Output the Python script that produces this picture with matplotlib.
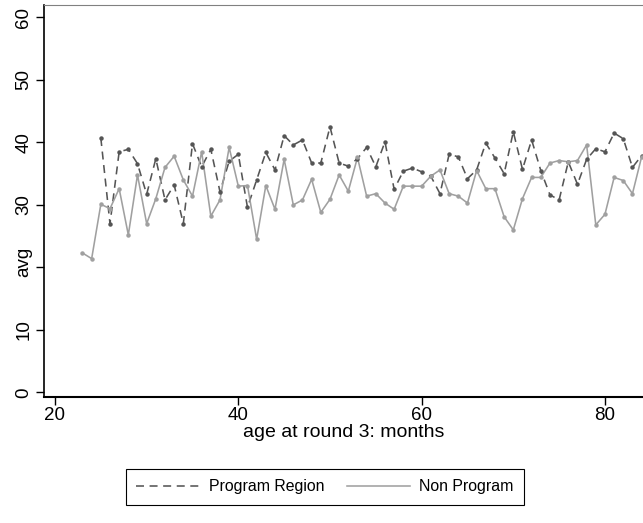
import matplotlib
matplotlib.use('Agg')
import matplotlib.pyplot as plt

plt.rcParams['font.family'] = ['Liberation Sans', 'DejaVu Sans']

# average by age at round 3 (months)
age_program = list(range(25, 85))
avg_program = [40.7, 27.0, 38.5, 38.9, 36.6, 31.7, 37.4, 30.8, 33.2, 27.0,
               39.8, 36.1, 38.9, 32.1, 37.0, 38.1, 29.6, 34.0, 38.4, 35.6,
               41.1, 39.6, 40.4, 36.7, 36.7, 42.5, 36.7, 36.2, 37.4, 39.2,
               36.1, 40.1, 32.5, 35.4, 35.9, 35.3, 34.6, 31.8, 38.1, 37.7,
               34.2, 35.6, 39.9, 37.5, 35.0, 41.7, 35.7, 40.4, 35.5, 31.6,
               30.8, 36.9, 33.3, 37.3, 39.0, 38.5, 41.5, 40.6, 36.0, 37.9]

age_non = list(range(23, 85))
avg_non = [22.3, 21.4, 30.1, 29.4, 32.6, 25.2, 34.8, 27.0, 31.0, 36.0,
           37.8, 34.0, 31.4, 38.5, 28.2, 30.8, 39.2, 33.0, 33.1, 24.5,
           33.1, 29.3, 37.3, 30.0, 30.8, 34.1, 28.8, 30.9, 34.8, 32.2,
           37.6, 31.4, 31.8, 30.3, 29.3, 33.0, 33.0, 33.0, 34.6, 35.6,
           31.8, 31.4, 30.3, 35.5, 32.6, 32.6, 28.1, 26.0, 31.0, 34.4,
           34.4, 36.7, 37.1, 36.9, 37.1, 39.6, 26.8, 28.5, 34.4, 33.9,
           31.8, 37.7]

yticks = [0, 10, 20, 30, 40, 50, 60]
ytick_labels = ['0', '10', '', '30', '40', '50', '60']  # "avg" sits where 20 would be

dark = '#555555'
light = '#a0a0a0'
dash = (0, (5, 3.5))

fig = plt.figure(figsize=(6.43, 5.23), dpi=100)
ax = fig.add_axes([44/643, (523-397)/523, 1-44/643, (397-5)/523])

# lines (with legend) and the little dots on top
ax.plot(age_program, avg_program, color=dark, lw=1.15, linestyle=dash,
        label='Program Region')
ax.plot(age_non, avg_non, color=light, lw=1.15, label='Non Program')
ax.plot(age_program, avg_program, color=dark, linestyle='none',
        marker='o', markersize=2.2)
ax.plot(age_non, avg_non, color=light, linestyle='none',
        marker='o', markersize=2.2)

ax.set_xlim(18.8, 84.15)
ax.set_ylim(-0.75, 62.0)
ax.set_xticks([20, 40, 60, 80])
ax.set_yticks(yticks)
ax.set_yticklabels(ytick_labels)
ax.tick_params(direction='out', length=5.5, width=1, labelsize=13.5, colors='black')
ax.tick_params(axis='x', pad=1.5)
ax.tick_params(axis='y', pad=3)
for lab in ax.get_yticklabels():
    lab.set_rotation(90)
    lab.set_va('center')

ax.set_xlabel('age at round 3: months', fontsize=14, labelpad=0)
ax.set_ylabel('avg', fontsize=13.5)
ax.yaxis.label.set_va('center')
ax.yaxis.set_label_coords((24 - 44) / 599, (397 - 261.6) / 392)

ax.spines['right'].set_visible(False)
ax.spines['top'].set_color('#808080')
ax.spines['left'].set_linewidth(1.2)
ax.spines['bottom'].set_linewidth(1.5)

leg = fig.legend(loc='center', bbox_to_anchor=(325/643, 1-487/523), ncol=2,
                 fontsize=11.4, frameon=True, fancybox=False, edgecolor='black',
                 handlelength=4.0, handletextpad=0.57, columnspacing=1.45,
                 borderpad=0.65, framealpha=1)
leg.get_frame().set_linewidth(0.8)

fig.savefig('out.png', dpi=100)
